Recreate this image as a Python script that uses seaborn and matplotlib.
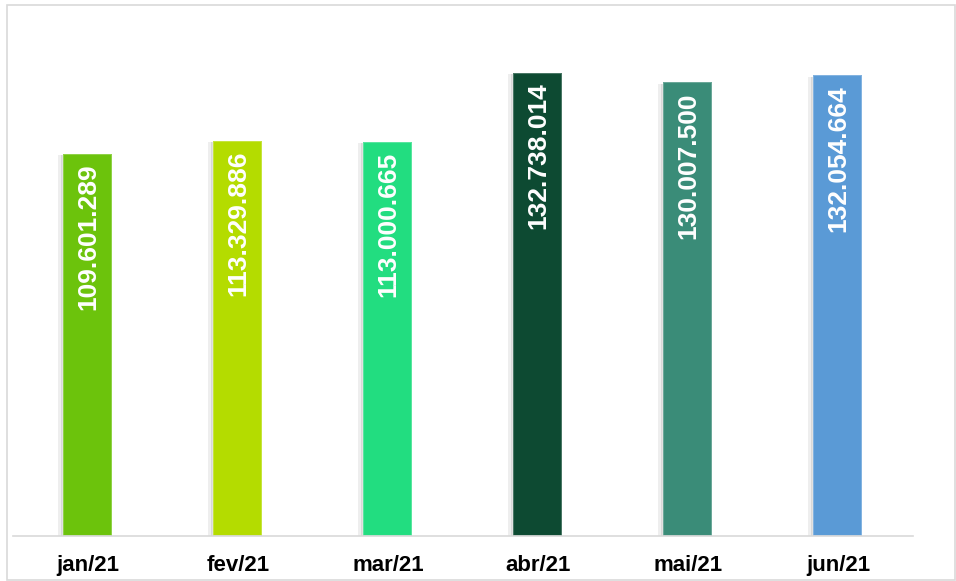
import matplotlib
matplotlib.use("Agg")
import matplotlib.pyplot as plt
import matplotlib.patheffects as pe
import seaborn as sns
import pandas as pd
from matplotlib.patches import Rectangle

months = ["jan/21", "fev/21", "mar/21", "abr/21", "mai/21", "jun/21"]
values = [109601289, 113329886, 113000665, 132738014, 130007500, 132054664]
colors = ["#6cc30c", "#b4dc00", "#22dd80", "#0d4a32", "#3a8c78", "#5a9ad6"]

df = pd.DataFrame({"mes": months, "valor": values})

sns.set_theme(style="white")
plt.rcParams["font.family"] = ["Liberation Sans", "DejaVu Sans"]

fig = plt.figure(figsize=(9.56, 5.81), dpi=100)
ax = fig.add_axes([13 / 956, 45 / 581, 900 / 956, 516 / 581])

sns.barplot(data=df, x="mes", y="valor", hue="mes", palette=colors,
            width=49 / 150, legend=False, ax=ax, saturation=1,
            edgecolor="none")

# subtle bevel and soft shadow
for patch in ax.patches:
    patch.set_edgecolor(matplotlib.colors.to_rgba("white", 0.25))
    patch.set_linewidth(1.5)
    patch.set_path_effects([
        pe.SimplePatchShadow(offset=(-4, -1), shadow_rgbFace="#909090", alpha=0.15),
        pe.SimplePatchShadow(offset=(-2, -1), shadow_rgbFace="#808080", alpha=0.2),
        pe.Normal(),
    ])

ax.set_xlim(-0.5, 5.5)
ax.set_ylim(0, 147.9e6)

for i, v in enumerate(values):
    lbl = f"{v:,}".replace(",", ".")
    ax.annotate(lbl, xy=(i, v), xytext=(0, -7), textcoords="offset points",
                rotation=90, ha="center", va="top", color="white",
                fontsize=19, fontweight="bold")

ax.set_xlabel("")
ax.set_ylabel("")
ax.set_yticks([])
ax.tick_params(axis="x", length=0, pad=14, labelsize=16)
for t in ax.get_xticklabels():
    t.set_fontweight("bold")
    t.set_color("black")
for s in ["top", "right", "left"]:
    ax.spines[s].set_visible(False)
ax.spines["bottom"].set_color("#d9d9d9")
ax.spines["bottom"].set_linewidth(1.2)

fig.patches.append(Rectangle((7 / 956, 1 / 581), 948 / 956, 575 / 581,
                             transform=fig.transFigure, fill=False,
                             edgecolor="#d9d9d9", linewidth=1.2))

fig.savefig("out.png", dpi=100)
